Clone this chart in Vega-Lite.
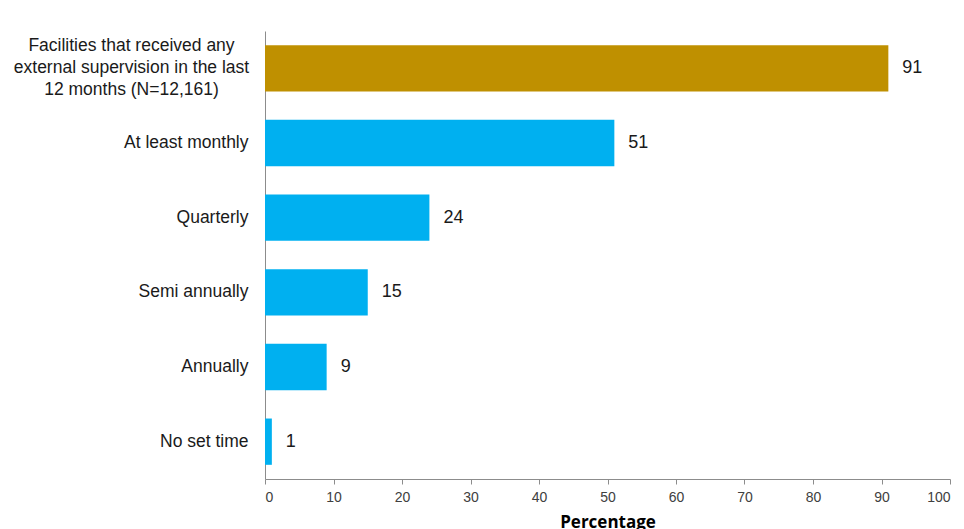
{
  "$schema": "https://vega.github.io/schema/vega-lite/v6.json",
  "width": 685,
  "height": 448,
  "autosize": {"type": "none"},
  "padding": {"left": 265, "top": 31, "right": 14, "bottom": 50},
  "background": "white",
  "config": {"view": {"stroke": null}},
  "data": {
    "values": [
      {"category": "Facilities that received any external supervision in the last 12 months (N=12,161)", "order": 1, "value": 91, "group": "total"},
      {"category": "At least monthly", "order": 2, "value": 51, "group": "freq"},
      {"category": "Quarterly", "order": 3, "value": 24, "group": "freq"},
      {"category": "Semi annually", "order": 4, "value": 15, "group": "freq"},
      {"category": "Annually", "order": 5, "value": 9, "group": "freq"},
      {"category": "No set time", "order": 6, "value": 1, "group": "freq"}
    ]
  },
  "encoding": {
    "y": {
      "field": "category",
      "type": "nominal",
      "sort": {"field": "order"},
      "scale": {"paddingInner": 0.38, "paddingOuter": 0.19},
      "axis": {
        "title": null,
        "ticks": false,
        "domainColor": "#8c8c8c",
        "labelFont": "Liberation Sans",
        "labelFontSize": 17.5,
        "labelColor": "#1a1a1a",
        "labelLimit": 300,
        "labelLineHeight": 22,
        "labelExpr": "datum.value == 'Facilities that received any external supervision in the last 12 months (N=12,161)' ? ['Facilities that received any', 'external supervision in the last', '12 months (N=12,161)'] : datum.value",
        "labelAlign": {"condition": {"test": "indexof(datum.value, 'Facilities') == 0", "value": "center"}, "value": "right"},
        "labelPadding": {"condition": {"test": "indexof(datum.value, 'Facilities') == 0", "value": 134}, "value": 17},
        "labelOffset": {"condition": {"test": "indexof(datum.value, 'Facilities') == 0", "value": -22}, "value": 0}
      }
    },
    "x": {
      "field": "value",
      "type": "quantitative",
      "scale": {"domain": [0, 100]},
      "axis": {
        "title": "Percentage",
        "values": [0, 10, 20, 30, 40, 50, 60, 70, 80, 90, 100],
        "grid": false,
        "domainColor": "#8c8c8c",
        "tickColor": "#8c8c8c",
        "tickSize": 5,
        "labelFont": "Liberation Sans",
        "labelFontSize": 14,
        "labelColor": "#404040",
        "labelPadding": 6,
        "titleFont": "Open Sans",
        "titleFontWeight": "bold",
        "titleFontSize": 17,
        "titleColor": "#000000",
        "titlePadding": 10
      }
    }
  },
  "layer": [
    {
      "mark": {"type": "bar"},
      "encoding": {
        "color": {
          "field": "group",
          "type": "nominal",
          "scale": {"domain": ["total", "freq"], "range": ["#BF9000", "#00B0F0"]},
          "legend": null
        }
      }
    },
    {
      "mark": {"type": "text", "align": "left", "baseline": "middle", "dx": 14, "font": "Liberation Sans", "fontSize": 18, "color": "#1a1a1a"},
      "encoding": {"text": {"field": "value", "type": "quantitative"}}
    }
  ]
}
